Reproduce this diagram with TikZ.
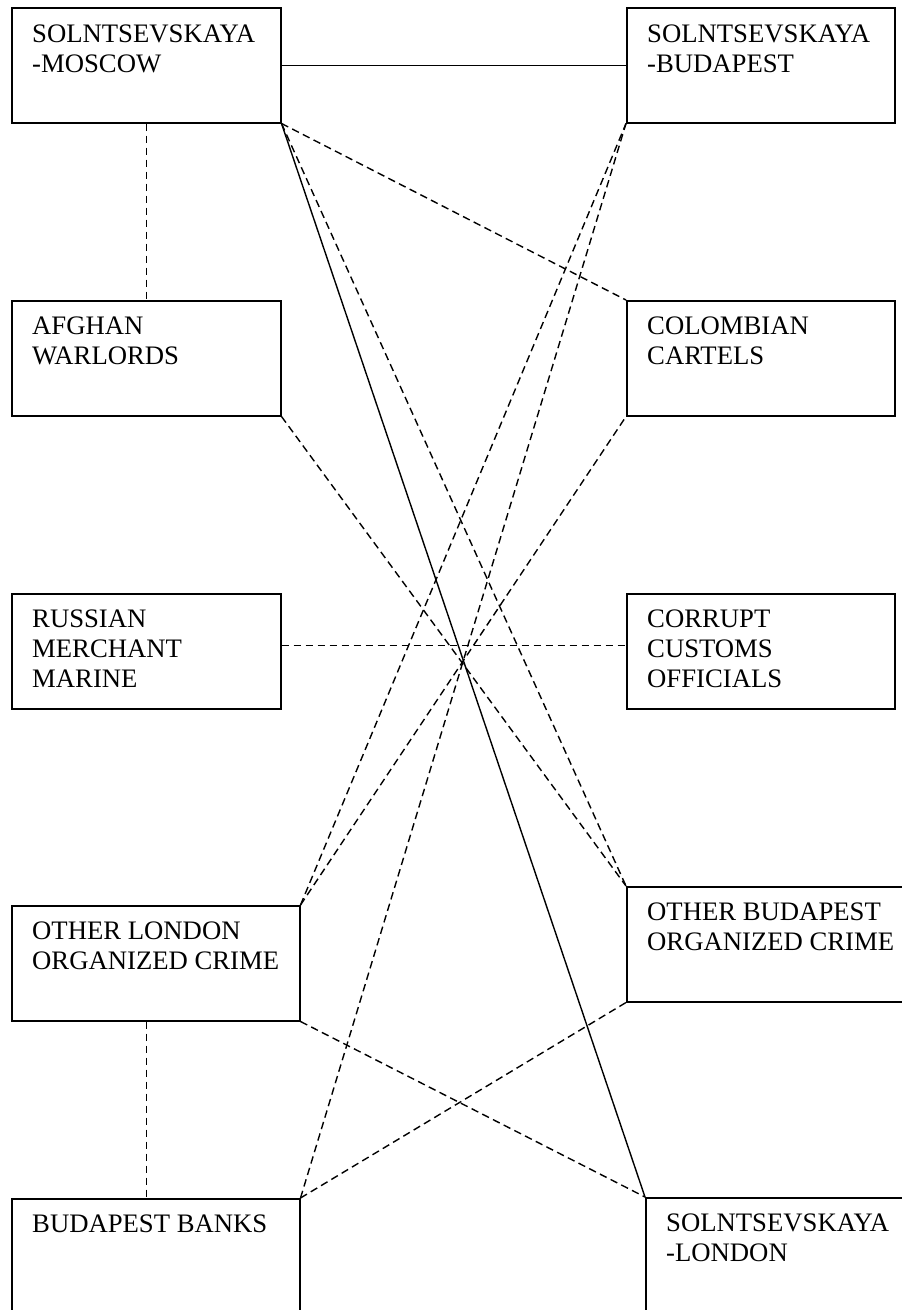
\documentclass[tikz,border=0pt]{standalone}
\usepackage{fontspec}
\setmainfont{Liberation Serif}
\usetikzlibrary{calc}
\tikzset{
  box/.style={draw, line width=1.5pt, rectangle, inner sep=0pt, anchor=north west},
  lbl/.style={anchor=north west, inner sep=0pt, align=left, font=\fontsize{26.7}{30}\selectfont},
  solidlink/.style={line width=1.4pt},
  dashlink/.style={line width=1.4pt, dash pattern=on 7.5pt off 4.5pt},
}
\begin{document}
\begin{tikzpicture}[x=1pt, y=-1pt]
\useasboundingbox (0,0) rectangle (902,1310);
\clip (0,0) rectangle (902,1310);
% boxes
\node[box, minimum width=269pt, minimum height=115pt] (mos) at (11,7) {};
\node[box, minimum width=268pt, minimum height=115pt] (bud) at (626,7) {};
\node[box, minimum width=269pt, minimum height=115pt] (afg) at (11,300) {};
\node[box, minimum width=268pt, minimum height=115pt] (col) at (626,300) {};
\node[box, minimum width=269pt, minimum height=115pt] (rus) at (11,593) {};
\node[box, minimum width=268pt, minimum height=115pt] (cor) at (626,593) {};
\node[box, minimum width=288pt, minimum height=115pt] (olon) at (11,905) {};
\node[box, minimum width=290pt, minimum height=115pt] (obud) at (626,886) {};
\node[box, minimum width=288pt, minimum height=125pt] (banks) at (11,1198) {};
\node[box, minimum width=270pt, minimum height=125pt] (lon) at (645,1197) {};
% labels
\node[lbl] (mosT) at ($(mos.north west)+(21,18)$) {SOLNTSEVSKAYA\\-MOSCOW};
\node[lbl] (budT) at ($(bud.north west)+(21,18)$) {SOLNTSEVSKAYA\\-BUDAPEST};
\node[lbl] (afgT) at ($(afg.north west)+(21,17)$) {AFGHAN\\WARLORDS};
\node[lbl] (colT) at ($(col.north west)+(21,17)$) {COLOMBIAN\\CARTELS};
\node[lbl] (rusT) at ($(rus.north west)+(21,17)$) {RUSSIAN\\MERCHANT\\MARINE};
\node[lbl] (corT) at ($(cor.north west)+(21,17)$) {CORRUPT\\CUSTOMS\\OFFICIALS};
\node[lbl] (olonT) at ($(olon.north west)+(21,17)$) {OTHER LONDON\\ORGANIZED CRIME};
\node[lbl] (obudT) at ($(obud.north west)+(21,17)$) {OTHER BUDAPEST\\ORGANIZED CRIME};
\node[lbl] (banksT) at ($(banks.north west)+(21,17)$) {BUDAPEST BANKS};
\node[lbl] (lonT) at ($(lon.north west)+(21,17)$) {SOLNTSEVSKAYA\\-LONDON};
% connectors
\draw[solidlink] (mos.east) -- (bud.west);
\draw[dashlink] (mos.south) -- (afg.north);
\draw[dashlink] (mos.south east) -- (col.north west);
\draw[solidlink] (mos.south east) -- (lon.north west);
\draw[dashlink] (mos.south east) -- (obud.north west);
\draw[dashlink] (afg.south east) -- (obud.north west);
\draw[dashlink] ([yshift=6pt]rus.east) -- ([yshift=6pt]cor.west);
\draw[dashlink] (olon.north east) -- (bud.south west);
\draw[dashlink] (olon.north east) -- (col.south west);
\draw[dashlink] (banks.north east) -- (bud.south west);
\draw[dashlink] (banks.north east) -- (obud.south west);
\draw[dashlink] (olon.south east) -- (lon.north west);
\draw[dashlink] (olon.south -| mos.south) -- (banks.north -| mos.south);
\draw[dashlink] ($(banks.north east)+(0,57)$) -- ($(banks.north east)+(0,57)$ -| lon.west);
\end{tikzpicture}
\end{document}
